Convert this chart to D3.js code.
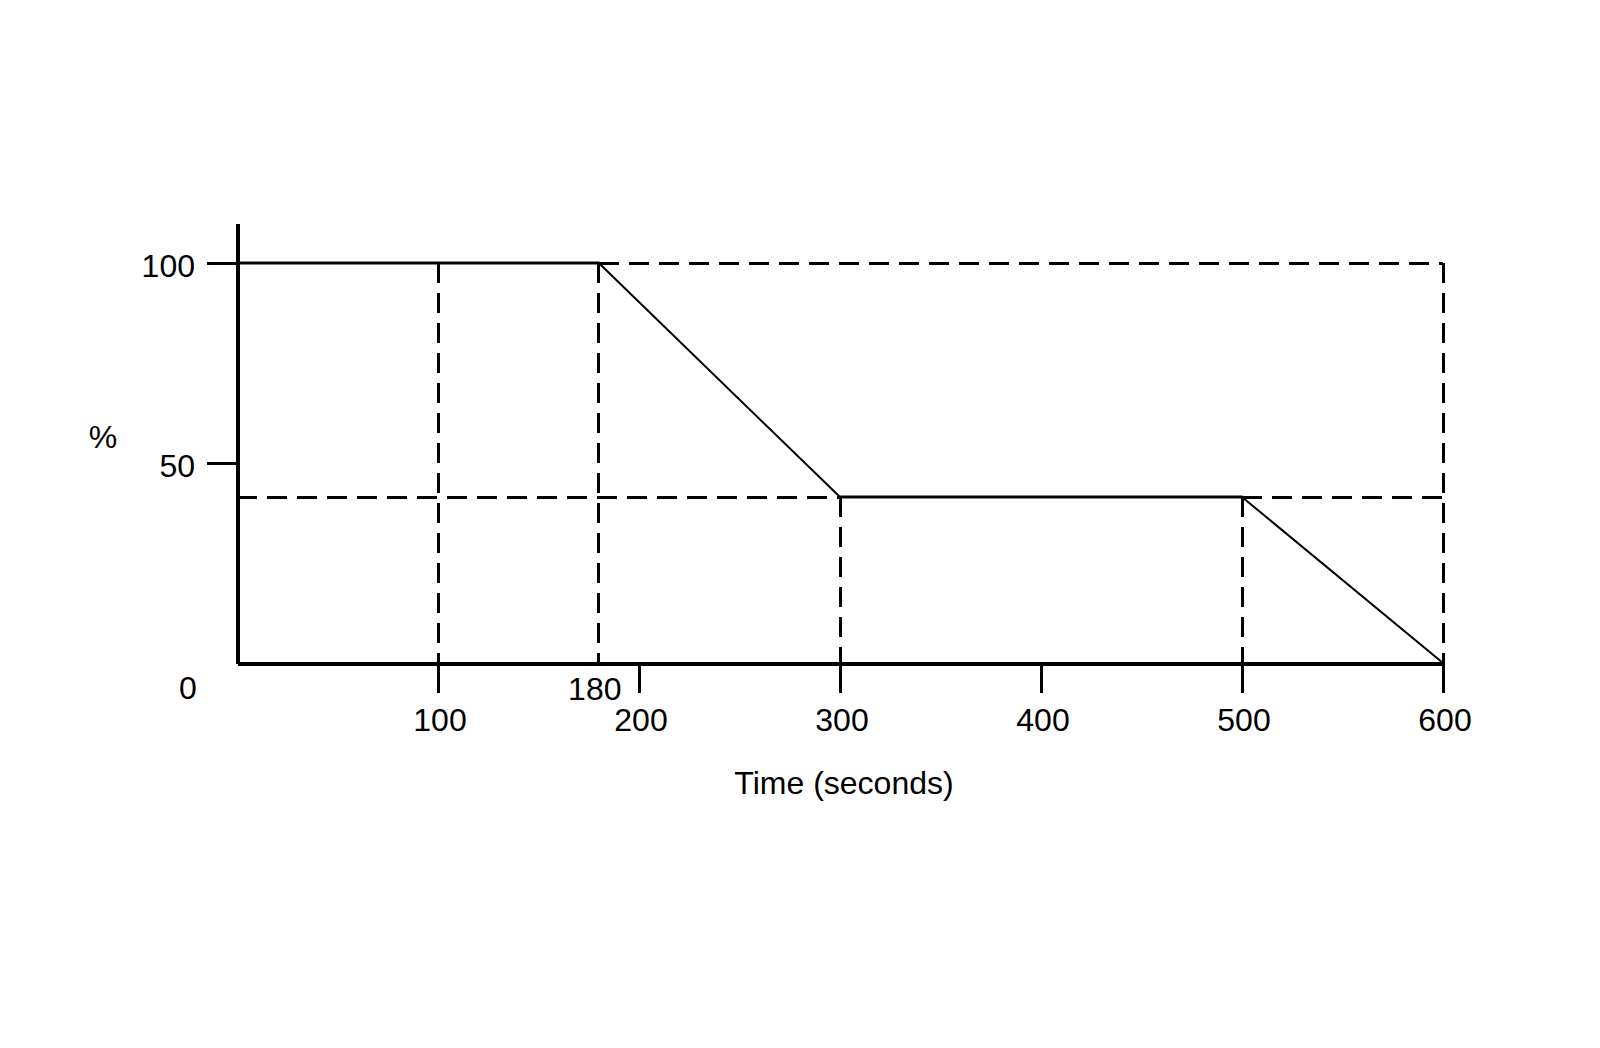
<!DOCTYPE html>
<html>
<head>
<meta charset="utf-8">
<script src="https://cdn.jsdelivr.net/npm/d3@7"></script>
<style>
  html, body { margin: 0; padding: 0; background: #fff; }
  svg { display: block; }
  text { font-family: "Liberation Sans", Arial, Helvetica, sans-serif; fill: #000; }
</style>
</head>
<body>
<svg id="chart" width="1600" height="1048"></svg>
<script>
// ---- Data ----
const timePoints = [0, 180, 300, 500, 600];
const percentValues = [100, 100, 41.5, 41.5, 0];

const xTickValues = [100, 200, 300, 400, 500, 600];
const xTickLabels = ["100", "200", "300", "400", "500", "600"];
const yTickValues = [50, 100];
const yTickLabels = ["50", "100"];

// reference (dashed) guide lines
const vGuideTimes = [100, 180, 300, 500, 600];
const vGuideTops = [100, 100, 41.5, 41.5, 100];
const hGuideLevels = [100, 41.5, 41.5];
const hGuideStarts = [180, 0, 500];
const hGuideEnds = [600, 300, 600];

const xTitle = "Time (seconds)";
const yTitle = "%";

// ---- Layout ----
const FS = 32;
const svg = d3.select("#chart");
const x = d3.scaleLinear().domain([0, 600]).range([237, 1443]);
const y = d3.scaleLinear().domain([0, 110]).range([663, 223]);

// dashed guides
const g = svg.append("g");
g.selectAll("line.vg").data(vGuideTimes).join("line")
  .attr("x1", d => x(d)).attr("x2", d => x(d))
  .attr("y1", (d, i) => y(vGuideTops[i])).attr("y2", y(0))
  .attr("stroke", "#000").attr("stroke-width", 3)
  .attr("stroke-dasharray", "20,10").attr("shape-rendering", "crispEdges");

g.selectAll("line.hg").data(hGuideLevels).join("line")
  .attr("x1", (d, i) => x(hGuideStarts[i])).attr("x2", (d, i) => x(hGuideEnds[i]))
  .attr("y1", d => y(d)).attr("y2", d => y(d))
  .attr("stroke", "#000").attr("stroke-width", 3)
  .attr("stroke-dasharray", "20,10").attr("shape-rendering", "crispEdges");

// data line: segments (horizontal thicker, diagonal thinner)
const segs = d3.pairs(timePoints.map((t, i) => [t, percentValues[i]]));
g.selectAll("line.seg").data(segs).join("line")
  .attr("x1", d => x(d[0][0])).attr("y1", d => y(d[0][1]))
  .attr("x2", d => x(d[1][0])).attr("y2", d => y(d[1][1]))
  .attr("stroke", "#000")
  .attr("stroke-width", d => d[0][1] === d[1][1] ? 3 : 2)
  .attr("stroke-linecap", "round");

// x axis
const xAxis = d3.axisBottom(x)
  .tickValues(xTickValues)
  .tickSize(30)
  .tickSizeOuter(0)
  .tickFormat("");
const gx = svg.append("g").attr("transform", `translate(0,${y(0)})`).call(xAxis);
gx.select(".domain").attr("stroke-width", 4).attr("shape-rendering", "crispEdges");
gx.selectAll(".tick line").attr("stroke-width", 3).attr("shape-rendering", "crispEdges");

svg.append("g").selectAll("text").data(xTickValues).join("text")
  .attr("x", d => x(d) + 2)
  .attr("y", 720)
  .attr("text-anchor", "middle")
  .attr("dominant-baseline", "central")
  .attr("font-size", FS)
  .text((d, i) => xTickLabels[i]);

// special labels: 180 and 0
svg.append("text").attr("x", x(180) - 4).attr("y", 689)
  .attr("text-anchor", "middle").attr("dominant-baseline", "central")
  .attr("font-size", FS).text("180");
svg.append("text").attr("x", 188).attr("y", 688)
  .attr("text-anchor", "middle").attr("dominant-baseline", "central")
  .attr("font-size", FS).text("0");

// y axis
const yAxis = d3.axisLeft(y)
  .tickValues(yTickValues)
  .tickSize(30)
  .tickSizeOuter(0)
  .tickFormat("");
const gy = svg.append("g").attr("transform", `translate(${x(0)},0)`).call(yAxis);
gy.select(".domain").attr("stroke-width", 4).attr("shape-rendering", "crispEdges");
gy.selectAll(".tick line").attr("stroke-width", 3).attr("shape-rendering", "crispEdges");

svg.append("g").selectAll("text").data(yTickValues).join("text")
  .attr("x", 195)
  .attr("y", d => y(d) + 3)
  .attr("text-anchor", "end")
  .attr("dominant-baseline", "central")
  .attr("font-size", FS)
  .text((d, i) => yTickLabels[i]);

// titles
svg.append("text").attr("x", 844).attr("y", 783)
  .attr("text-anchor", "middle").attr("dominant-baseline", "central")
  .attr("font-size", FS).text(xTitle);
svg.append("text").attr("x", 103).attr("y", 437)
  .attr("text-anchor", "middle").attr("dominant-baseline", "central")
  .attr("font-size", FS).text(yTitle);
</script>
</body>
</html>
